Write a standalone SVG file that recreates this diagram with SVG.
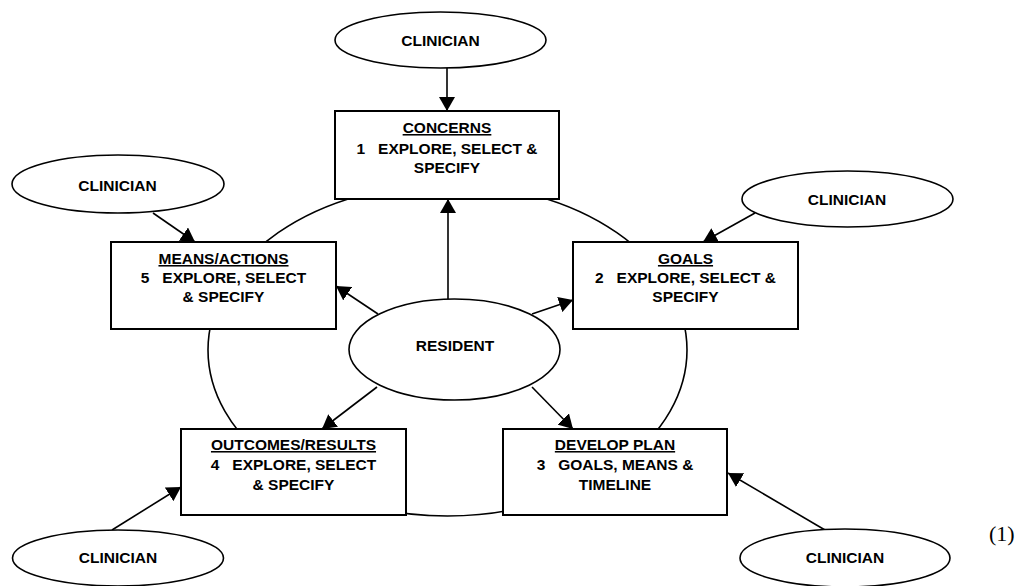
<svg xmlns="http://www.w3.org/2000/svg" width="1026" height="586" viewBox="0 0 1026 586">
  <style>
    .bg { fill: #ffffff; }
    .ring { fill: none; stroke: #000; stroke-width: 1.6; }
    .box { fill: #ffffff; stroke: #000; stroke-width: 2; }
    .oval { fill: #ffffff; stroke: #000; stroke-width: 1.6; }
    .conn { stroke: #000; stroke-width: 1.6; fill: none; marker-end: url(#arrow); }
    text { font-family: "Liberation Sans", Arial, sans-serif; font-weight: bold; font-size: 15.5px; fill: #000; text-anchor: middle; white-space: pre; }
    .u { text-decoration: underline; }
    .num { font-family: "Liberation Serif", "Times New Roman", serif; font-weight: normal; font-size: 22px; text-anchor: start; }
  </style>
  <defs>
    <marker id="arrow" markerUnits="userSpaceOnUse" markerWidth="15" markerHeight="16" refX="14" refY="8" orient="auto">
      <path d="M0,0 L14,8 L0,16 z" fill="#000"/>
    </marker>
  </defs>
  <rect class="bg" x="0" y="0" width="1026" height="586"/>

  <g id="cycle">
    <ellipse class="ring" cx="447.5" cy="350" rx="239.5" ry="166"/>
  </g>

  <g id="connectors">
    <line class="conn" x1="447" y1="68" x2="447" y2="111"/>
    <line class="conn" x1="153" y1="213" x2="195" y2="242"/>
    <line class="conn" x1="755" y1="213" x2="703" y2="242"/>
    <line class="conn" x1="112" y1="530" x2="181" y2="487"/>
    <line class="conn" x1="825" y1="530" x2="728" y2="473"/>
    <line class="conn" x1="448" y1="299" x2="448" y2="199"/>
    <line class="conn" x1="378" y1="314" x2="336" y2="286"/>
    <line class="conn" x1="532" y1="314" x2="573" y2="300"/>
    <line class="conn" x1="377" y1="387" x2="322" y2="429"/>
    <line class="conn" x1="532" y1="387" x2="573" y2="429"/>
  </g>

  <g id="concerns">
    <rect class="box" x="335" y="111" width="224" height="88"/>
    <text x="447" y="133" class="u">CONCERNS</text>
    <text x="447" y="154">1   EXPLORE, SELECT &amp;</text>
    <text x="447" y="173">SPECIFY</text>
  </g>

  <g id="goals">
    <rect class="box" x="573" y="242" width="225" height="87"/>
    <text x="685.5" y="264" class="u">GOALS</text>
    <text x="685.5" y="283">2   EXPLORE, SELECT &amp;</text>
    <text x="685.5" y="302">SPECIFY</text>
  </g>

  <g id="develop-plan">
    <rect class="box" x="503" y="429" width="224" height="86"/>
    <text x="615" y="450" class="u">DEVELOP PLAN</text>
    <text x="615" y="470">3   GOALS, MEANS &amp;</text>
    <text x="615" y="490">TIMELINE</text>
  </g>

  <g id="outcomes">
    <rect class="box" x="181" y="429" width="225" height="86"/>
    <text x="293.5" y="450" class="u">OUTCOMES/RESULTS</text>
    <text x="293.5" y="470">4   EXPLORE, SELECT</text>
    <text x="293.5" y="490">&amp; SPECIFY</text>
  </g>

  <g id="means-actions">
    <rect class="box" x="111" y="242" width="225" height="87"/>
    <text x="223.5" y="264" class="u">MEANS/ACTIONS</text>
    <text x="223.5" y="283">5   EXPLORE, SELECT</text>
    <text x="223.5" y="302">&amp; SPECIFY</text>
  </g>

  <g id="resident">
    <ellipse class="oval" cx="454.5" cy="349.5" rx="105.5" ry="50.5"/>
    <text x="455" y="351">RESIDENT</text>
  </g>

  <g id="clinician-top">
    <ellipse class="oval" cx="440.5" cy="40" rx="105.5" ry="28"/>
    <text x="440.5" y="46">CLINICIAN</text>
  </g>

  <g id="clinician-left">
    <ellipse class="oval" cx="118" cy="184" rx="106" ry="29"/>
    <text x="117.5" y="191">CLINICIAN</text>
  </g>

  <g id="clinician-right">
    <ellipse class="oval" cx="847.5" cy="199" rx="105.5" ry="28"/>
    <text x="847" y="205">CLINICIAN</text>
  </g>

  <g id="clinician-bottom-left">
    <ellipse class="oval" cx="118" cy="558" rx="105.5" ry="28"/>
    <text x="118" y="563">CLINICIAN</text>
  </g>

  <g id="clinician-bottom-right">
    <ellipse class="oval" cx="845" cy="558" rx="105" ry="29"/>
    <text x="845" y="563">CLINICIAN</text>
  </g>

  <text class="num" x="989" y="541">(1)</text>
</svg>
